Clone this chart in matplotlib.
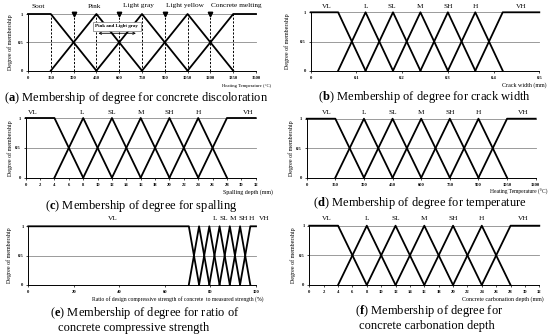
import numpy as np
import matplotlib
matplotlib.use('Agg')
import matplotlib.pyplot as plt

plt.rcParams['font.family'] = 'Liberation Serif'
plt.rcParams['mathtext.fontset'] = 'custom'
plt.rcParams['mathtext.rm'] = 'Liberation Serif'
plt.rcParams['mathtext.bf'] = 'Liberation Serif:bold'

# ---- data: breakpoints of the membership functions ----
disc_pts = [150, 450, 750, 1050, 1350]
disc_names = ['Soot', 'Pink', 'Light gray', 'Light yellow', 'Concrete melting']
disc_name_x = [66, 440, 727, 1033, 1373]
disc_ticks = [0, 150, 300, 450, 600, 750, 900, 1050, 1200, 1350, 1500]
disc_marks = [300, 600, 900, 1200]

crack_pts = [0.06, 0.12, 0.18, 0.24, 0.30, 0.36, 0.42]
crack_ticks = [0, 0.1, 0.2, 0.3, 0.4, 0.5]
crack_name_x = [0.035, 0.12, 0.178, 0.24, 0.30, 0.36, 0.46]

spall_pts = [4, 8, 12, 16, 20, 24, 28]
spall_ticks = list(range(0, 33, 2))
spall_name_x = [1.0, 7.9, 12, 16, 20, 24, 31]

temp_pts = [150, 300, 450, 600, 750, 900, 1050]
temp_ticks = list(range(0, 1201, 150))
temp_name_x = [105, 300, 450, 600, 750, 900, 1134]

ratio_pts = [70.5, 75, 79.5, 84, 88.5, 93, 97.5]
ratio_ticks = [0, 20, 40, 60, 80, 100]
ratio_name_x = [37, 82, 86, 90, 94.4, 97.8, 103.6]

carb_pts = [4, 8, 12, 16, 20, 24, 28]
carb_ticks = list(range(0, 33, 2))
carb_name_x = [2.5, 8, 12, 16, 20, 24, 29.7]

level_names = ['VL', 'L', 'SL', 'M', 'SH', 'H', 'VH']

W, H = 550, 336
fig = plt.figure(figsize=(5.5, 3.36), dpi=100)


def make_ax(x0, x1, ytop, ybot):
    # axes placed by pixel positions
    return fig.add_axes([x0 / W, 1 - ybot / H, (x1 - x0) / W, (ybot - ytop) / H])


def membership(ax, pts, xmin, xmax):
    n = len(pts)
    ax.plot([xmin, pts[0], pts[1]], [1, 1, 0], color='black', lw=1.3, clip_on=False)
    for k in range(1, n - 1):
        ax.plot([pts[k - 1], pts[k], pts[k + 1]], [0, 1, 0], color='black', lw=1.3, clip_on=False)
    ax.plot([pts[-2], pts[-1], xmax], [0, 1, 1], color='black', lw=1.3, clip_on=False)


def style(ax, ticks, ylab_x, name_y, names, name_x, xlabel, xlab_x, xlab_y, xlab_fs):
    ax.set_xlim(ticks[0], ticks[-1])
    ax.set_ylim(0, 1)
    ax.set_xticks(ticks)
    ax.set_xticklabels([f'{t:g}' for t in ticks], fontsize=3.3, fontweight='bold')
    ax.set_yticks([0, 0.5, 1])
    ax.set_yticklabels(['0', '0.5', '1'], fontsize=3.3, fontweight='bold')
    ax.tick_params(length=1.5, width=0.5, pad=2)
    for s in ['top', 'right']:
        ax.spines[s].set_visible(False)
    for s in ['left', 'bottom']:
        ax.spines[s].set_linewidth(0.7)
    for yv in [0.5, 1.0]:
        ax.axhline(yv, color='#8a8a8a', lw=0.6, zorder=0, clip_on=False)
    bb = ax.get_position()
    fig.text(ylab_x / W, bb.y0 + bb.height / 2, 'Degree of membership', rotation=90,
             ha='center', va='center', fontsize=4.3)
    # category names sit in a row above the plot area
    for nm, xv in zip(names, name_x):
        xf = ax.transData.transform((xv, 0))[0]
        fig.text(xf / W, 1 - name_y / H, nm, ha='center', va='center', fontsize=5.2)
    fig.text(xlab_x / W, 1 - xlab_y / H, xlabel, ha='right', va='center', fontsize=xlab_fs)


def caption(lines):
    for txt, xc, yc in lines:
        fig.text(xc / W, 1 - yc / H, txt, ha='center', va='center', fontsize=9.0)


# (a) discoloration
ax = make_ax(28, 256, 14, 70.7)
membership(ax, disc_pts, 0, 1500)
for xv in disc_ticks[1:-1]:
    ax.plot([xv, xv], [0, 1], color='black', lw=0.7, ls=(0, (2.2, 1.6)), zorder=1)
ax.plot(disc_marks, [1.0] * len(disc_marks), 'v', color='black', ms=3.2, clip_on=False, zorder=5)
ax.annotate('', xy=(445, 0.66), xytext=(728, 0.66),
            arrowprops=dict(arrowstyle='<->', lw=0.6, color='black', mutation_scale=4))
ax.text(585, 0.78, 'Pink and Light gray', ha='center', va='center', fontsize=3.6, fontweight='bold',
        bbox=dict(boxstyle='square,pad=0.5', fc='white', ec='#777777', lw=0.5), zorder=6)
style(ax, disc_ticks, 10, 6, disc_names, disc_name_x, 'Heating Temperature (\u00b0C)', 271, 86, 3.4)

# (b) crack width
ax = make_ax(310.7, 539.3, 12.3, 70.7)
membership(ax, crack_pts, 0, 0.5)
style(ax, crack_ticks, 286.7, 6, level_names, crack_name_x, 'Crack width (mm)', 547, 85, 4.3)

# (c) spalling
ax = make_ax(25.7, 255.7, 118, 177.7)
membership(ax, spall_pts, 0, 32)
style(ax, spall_ticks, 10, 113, level_names, spall_name_x, 'Spalling depth (mm)', 273, 192, 4.3)

# (d) temperature
ax = make_ax(306.7, 535.7, 118.7, 177.7)
membership(ax, temp_pts, 0, 1200)
style(ax, temp_ticks, 291, 113, level_names, temp_name_x, 'Heating Temperature (\u00b0C)', 548, 192, 4.0)

# (e) compressive strength ratio
ax = make_ax(28.3, 256, 226.3, 284.7)
membership(ax, ratio_pts, 0, 100)
style(ax, ratio_ticks, 9.3, 219, level_names, ratio_name_x,
      'Ratio of design compressive strength of concrete  to measured strength (%)', 263, 299, 4.1)

# (f) carbonation depth
ax = make_ax(309.3, 539.3, 225.7, 285)
membership(ax, carb_pts, 0, 32)
style(ax, carb_ticks, 293, 219, level_names, carb_name_x, 'Concrete carbonation depth (mm)', 544, 299, 4.3)

caption([
    (r'($\mathbf{a}$) Membership of degree for concrete discoloration', 136.5, 98),
    (r'($\mathbf{b}$) Membership of degree for crack width', 424, 97),
    (r'($\mathbf{c}$) Membership of degree for spalling', 141, 206),
    (r'($\mathbf{d}$) Membership of degree for temperature', 420, 203),
    (r'($\mathbf{e}$) Membership of degree for ratio of', 145, 313),
    ('concrete compressive strength', 134, 328),
    (r'($\mathbf{f}$) Membership of degree for', 429, 311),
    ('concrete carbonation depth', 427, 326),
])

fig.savefig('out.png', dpi=100)
